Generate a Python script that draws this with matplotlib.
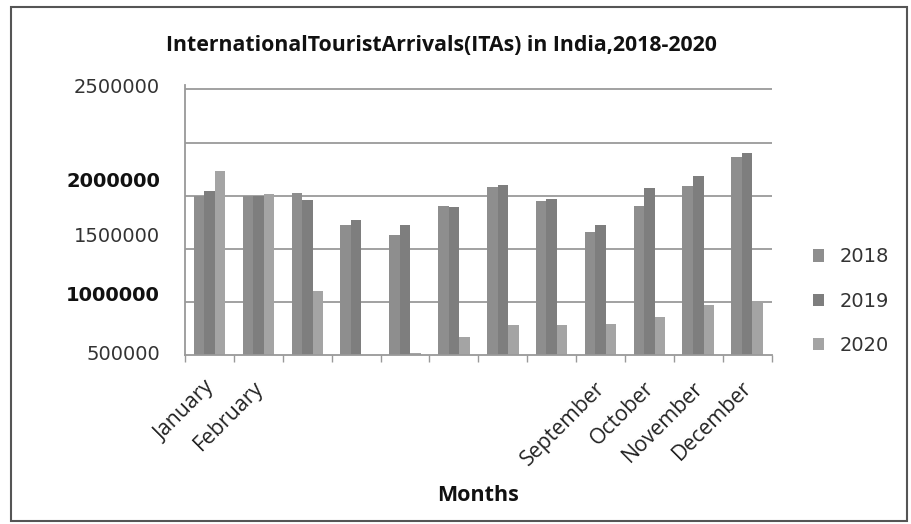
from matplotlib import pyplot as plt
from matplotlib.patches import Rectangle
import numpy as np

months = ['January', 'February', 'March', 'April', 'May', 'June', 'July',
          'August', 'September', 'October', 'November', 'December']
shown_months = ['January', 'February', '', '', '', '', '', '',
                'September', 'October', 'November', 'December']
years = ['2018', '2019', '2020']

ita_2018 = [1497000, 1497000, 1525000, 1226000, 1133000, 1404000,
            1580000, 1454000, 1160000, 1404000, 1593000, 1864000]
ita_2019 = [1540000, 1497000, 1457000, 1267000, 1228000, 1389000,
            1596000, 1469000, 1228000, 1568000, 1688000, 1904000]
ita_2020 = [1728000, 1512000, 602000, 0, 21000, 170000,
            281000, 281000, 296000, 361000, 472000, 491000]

# y labels as they sit in the picture (not on the gridlines)
ylabel_pos = [2540000, 1655000, 1135000, 575000, 28000]
ylabel_txt = ['2500000', '2000000', '1500000', '1000000', '500000']
ylabel_bold = [False, True, False, True, False]


def main():
    fig = plt.figure(figsize=(9.12, 5.24), dpi=100)
    ax = fig.add_axes([0.203, 0.3225, 0.643, 0.515])

    colors = ['#8e8e8e', '#7e7e7e', '#a4a4a4']
    x = np.arange(len(months))
    w = 0.215
    for i, vals in enumerate([ita_2018, ita_2019, ita_2020]):
        ax.bar(x + (i - 1) * w, vals, width=w, color=colors[i], label=years[i], zorder=2)

    ax.set_xlim(-0.5, 11.5)
    ax.set_ylim(0, 2500000)

    for g in np.arange(500000, 2500001, 500000):
        ax.axhline(g, color='#9a9a9a', lw=1.3, zorder=1)

    ax.set_yticks(ylabel_pos)
    ax.set_yticklabels(ylabel_txt, fontsize=14, color='#333333')
    for lab, b in zip(ax.get_yticklabels(), ylabel_bold):
        if b:
            lab.set_fontweight('bold')
            lab.set_color('#111111')
    ax.tick_params(axis='y', length=0, pad=18)

    ax.set_xticks(np.arange(-0.5, 12, 1))
    ax.set_xticklabels([])
    ax.tick_params(axis='x', length=5, color='#999999', width=1)
    # labels sit a little left of the group centre, as in the original
    ax.set_xticks(x - 0.12, minor=True)
    ax.set_xticklabels(shown_months, minor=True, rotation=45, ha='right',
                       rotation_mode='anchor', fontsize=15.3, color='#222222',
                       family='Open Sans')
    ax.tick_params(axis='x', which='minor', length=0, pad=16)

    for s in ['top', 'right']:
        ax.spines[s].set_visible(False)
    for s in ['left', 'bottom']:
        ax.spines[s].set_color('#999999')
        ax.spines[s].set_linewidth(1.3)

    leg = ax.legend(loc='center left', bbox_to_anchor=(1.04, 0.2), frameon=False,
                    handlelength=0.6, handleheight=0.6, handletextpad=0.8,
                    labelspacing=1.3, fontsize=14)
    for t in leg.get_texts():
        t.set_color('#333333')

    fig.text(0.484, 0.913, 'InternationalTouristArrivals(ITAs) in India,2018-2020',
             ha='center', va='center', fontsize=15.3, fontweight='bold',
             family='Open Sans', color='#111111')
    fig.text(0.524, 0.055, 'Months', ha='center', va='center', fontsize=15.5,
             fontweight='bold', family='Open Sans', color='#111111')

    fig.patches.append(Rectangle((0.012, 0.006), 0.982, 0.981, transform=fig.transFigure,
                                 fill=False, edgecolor='#555555', lw=1.5))

    fig.savefig('out.png', dpi=100)


if __name__ == "__main__":
    main()
